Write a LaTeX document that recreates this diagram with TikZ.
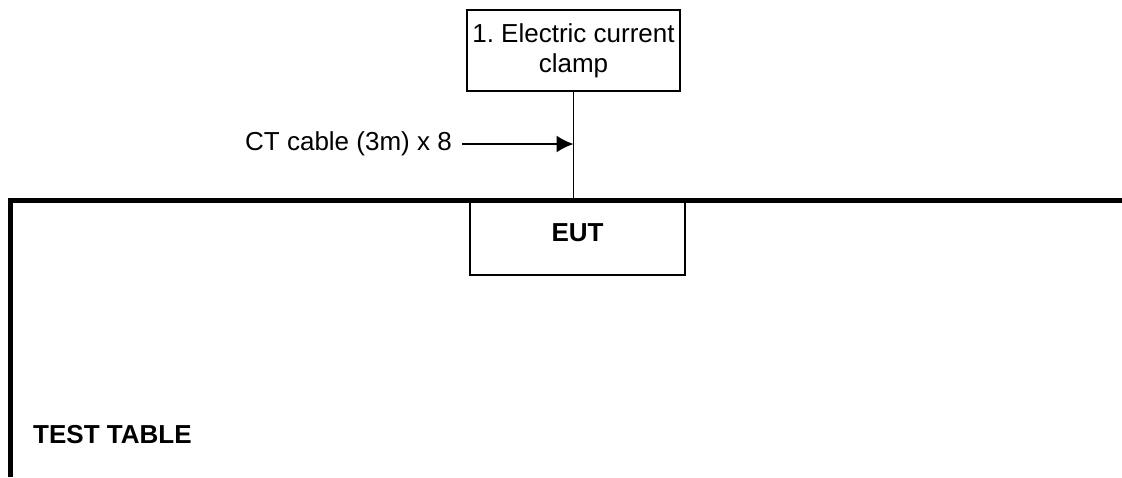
\documentclass[tikz,border=0pt]{standalone}
\usepackage{fontspec}
\setmainfont{Liberation Sans}
\usepackage{tikz}
\usetikzlibrary{arrows.meta}
\frenchspacing

\tikzset{
	labeltext/.style={font=\fontsize{26}{30}\selectfont, inner sep=0pt},
	boldtext/.style={font=\fontsize{26}{30}\selectfont\bfseries, inner sep=0pt},
	plainbox/.style={draw, line width=1.6pt, inner sep=0pt, align=center}
}

\begin{document}
\begin{tikzpicture}[x=1pt, y=-1pt]
				\useasboundingbox (0, 0) rectangle (1122, 477);
				
				%Table
				\draw[line width=5pt] (10.5, 477) |- (1122, 200);
				\node[boldtext, anchor=west] (tablename) at (33, 435) {TEST TABLE};
				
				%EUT
				\node[plainbox, minimum width=215pt, minimum height=75pt] (eut) at (577.5, 237.5) {};
				\node[boldtext] (euttext) at ([yshift=5pt]eut.center) {EUT};
				
				%Clamp
				\node[plainbox, labeltext, draw, line width=1.6pt, minimum width=213pt, minimum height=81pt] (clamp) at (573.5, 50.5) {1. Electric current\\clamp};
				
				%Lines
				\draw[line width=1.6pt] (clamp.south) -- (clamp.south |- eut.north);
				
				%Cable
				\node[labeltext, anchor=east] (cable) at (452, 144) {CT cable (3m) x 8};
				\draw[line width=1.6pt, -{Latex[length=17pt, width=17pt]}] ([xshift=10pt]cable.east) -- (cable.east -| clamp.south);
			\end{tikzpicture}
\end{document}
